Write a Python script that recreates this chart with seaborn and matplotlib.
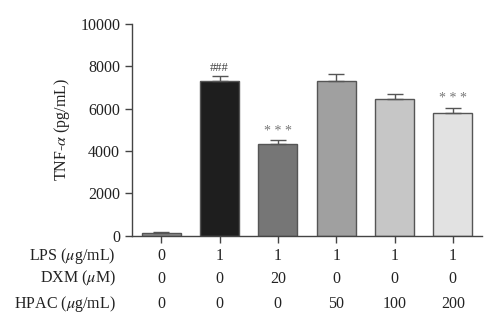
import numpy as np
import pandas as pd
import matplotlib
matplotlib.use("Agg")
import matplotlib.pyplot as plt
import seaborn as sns

groups = ["G0", "G1", "G2", "G3", "G4", "G5"]
tnf = [110, 7300, 4350, 7330, 6480, 5780]
err = [60, 250, 150, 300, 200, 240]
colors = ["#8a8a8a", "#1e1e1e", "#767676", "#a0a0a0", "#c6c6c6", "#e2e2e2"]
marks = ["", "###", "* * *", "", "", "* * *"]
row_labels = ["LPS ($\\mu$g/mL)", "DXM ($\\mu$M)", "HPAC ($\\mu$g/mL)"]
lps = ["0", "1", "1", "1", "1", "1"]
dxm = ["0", "0", "20", "0", "0", "0"]
hpac = ["0", "0", "0", "50", "100", "200"]
yticks = [0, 2000, 4000, 6000, 8000, 10000]

sns.set_theme(style="ticks")
plt.rcParams["font.family"] = ["Liberation Serif", "DejaVu Serif"]
plt.rcParams["mathtext.fontset"] = "stix"

fig = plt.figure(figsize=(5, 3.3), dpi=100)
ax = fig.add_axes([0.264, 0.286, 0.700, 0.641])

df = pd.DataFrame({"group": groups, "tnf": tnf})
sns.barplot(data=df, x="group", y="tnf", hue="group", palette=colors,
            legend=False, width=0.67, edgecolor="#555555", linewidth=1.0,
            ax=ax, errorbar=None)
x = np.arange(len(groups))
ax.errorbar(x, tnf, yerr=[np.zeros(len(err)), err], fmt="none",
            ecolor="#555555", elinewidth=1.0, capsize=5.5, capthick=1.0, zorder=1)

for xi, (m, v, e) in enumerate(zip(marks, tnf, err)):
    if m:
        if m == "###":
            ax.text(xi, v + e + 380, m, ha="center", va="center", fontsize=9,
                    color="#444444")
        else:
            ax.text(xi, v + e + 440, m, ha="center", va="center", fontsize=10,
                    color="#777777")

ax.set_xlim(-0.5, 5.5)
ax.set_ylim(0, 10000)
ax.set_yticks(yticks)
ax.set_yticklabels([str(t) for t in yticks], fontsize=11.5, color="#222222")
ax.set_xticks(x)
ax.set_xticklabels([])
ax.set_xlabel("")
ax.set_ylabel("TNF-$\\alpha$ (pg/mL)", fontsize=11.5, color="#222222", labelpad=6)
ax.tick_params(axis="both", direction="out", length=5, width=1, color="#444444")
for s in ["top", "right"]:
    ax.spines[s].set_visible(False)
for s in ["left", "bottom"]:
    ax.spines[s].set_color("#444444")
    ax.spines[s].set_linewidth(1)

trans = matplotlib.transforms.blended_transform_factory(ax.transData, ax.transAxes)
ys = [-0.097, -0.203, -0.321]
for yy, lab, vals in zip(ys, row_labels, [lps, dxm, hpac]):
    ax.text(-0.78, yy, lab, transform=trans, ha="right", va="center", fontsize=11.5,
            color="#222222")
    for xi, v in enumerate(vals):
        ax.text(xi, yy, v, transform=trans, ha="center", va="center", fontsize=11.5,
                color="#222222")

fig.savefig("out.png", dpi=100)
